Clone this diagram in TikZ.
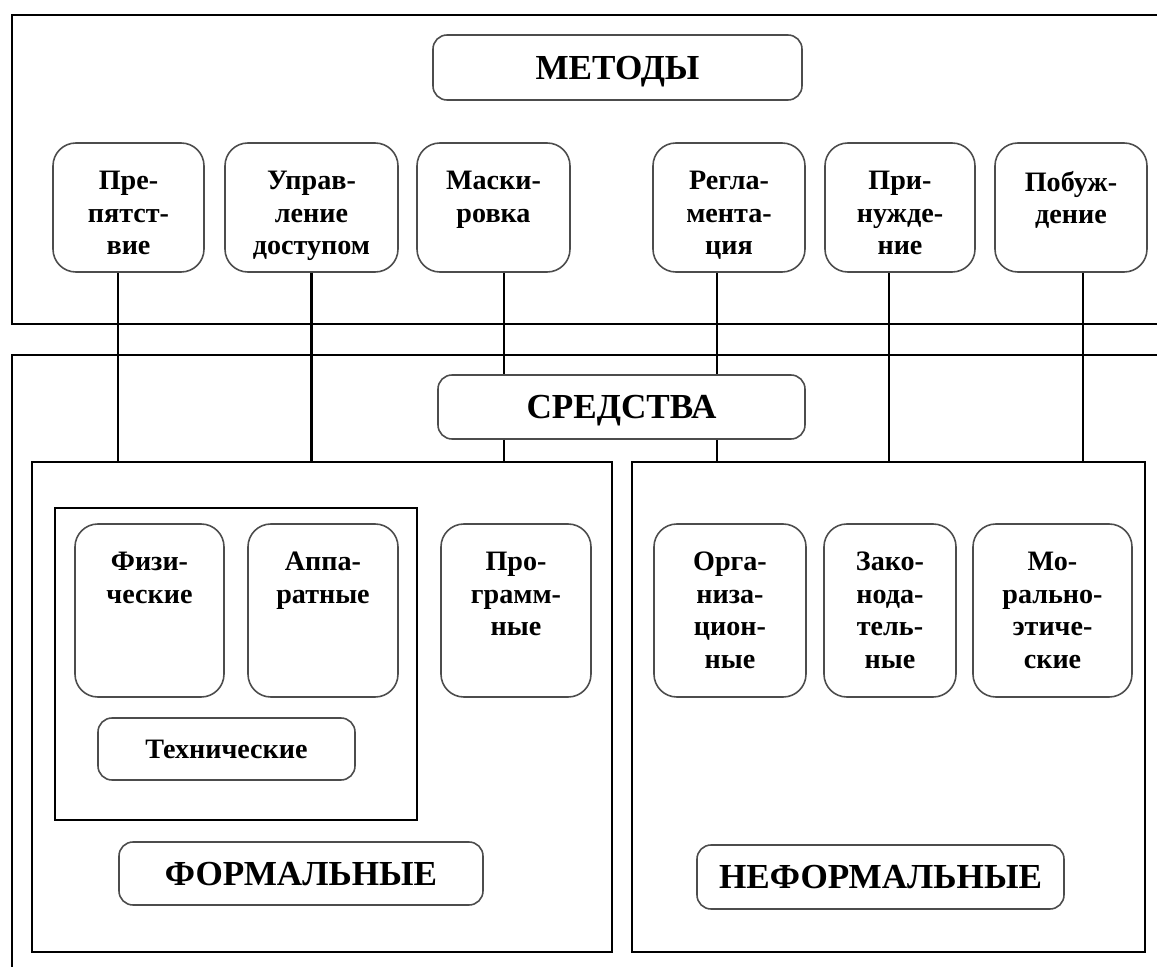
\documentclass[tikz,border=0pt]{standalone}
\usepackage{fontspec}
\setmainfont{Liberation Serif}
\newcommand{\boxtext}[3]{\parbox[c][#2][t]{#1}{\centering\vspace*{5.6mm}#3}}

\begin{document}
\begin{tikzpicture}[
                font=\bfseries\fontsize{16}{18.6}\selectfont,
                frame/.style={rectangle, draw=black, line width=1.6pt, inner sep=0pt},
                item/.style={rectangle, draw=black!70, line width=0.9pt, rounded corners=13pt, inner sep=0pt},
                head/.style={rectangle, draw=black!70, line width=0.9pt, rounded corners=8pt, inner sep=0pt, text depth=0pt, font=\bfseries\fontsize{20}{24}\selectfont},
                conn/.style={line width=1.6pt},
            ]
            \path[use as bounding box, clip] (0,0) rectangle (23.14,-19.34);

            \node[frame, minimum width=23.36cm, minimum height=6.18cm] (topframe) at (11.92,-3.39) {};
            \node[frame, minimum width=23.36cm, minimum height=12.7cm] (lowframe) at (11.92,-13.45) {};
            \node[frame, minimum width=11.6cm, minimum height=9.8cm] (formal) at (6.44,-14.14) {};
            \node[frame, minimum width=10.26cm, minimum height=9.8cm] (informal) at (17.77,-14.14) {};
            \node[frame, minimum width=7.24cm, minimum height=6.24cm] (tech) at (4.72,-13.28) {};

            \node[head, minimum width=7.38cm, minimum height=1.3cm] (metody) at (12.35,-1.35) {МЕТОДЫ};
            \node[item] (prep) at (2.57,-4.15) {\boxtext{3.02cm}{2.58cm}{Пре-\\пятст-\\вие}};
            \node[item] (upr) at (6.23,-4.15) {\boxtext{3.46cm}{2.58cm}{Управ-\\ление\\доступом}};
            \node[item] (mask) at (9.87,-4.15) {\boxtext{3.06cm}{2.58cm}{Маски-\\ровка}};
            \node[item] (regl) at (14.58,-4.15) {\boxtext{3.04cm}{2.58cm}{Регла-\\мента-\\ция}};
            \node[item] (prin) at (18.0,-4.15) {\boxtext{3.0cm}{2.58cm}{При-\\нужде-\\ние}};
            \node[item] (pob) at (21.42,-4.15) {\boxtext{3.04cm}{2.58cm}{Побуж-\\дение}};

            \node[head, minimum width=7.34cm, minimum height=1.28cm] (sredstva) at (12.43,-8.14) {СРЕДСТВА};

            \node[item] (phys) at (2.99,-12.21) {\boxtext{2.98cm}{3.46cm}{Физи-\\ческие}};
            \node[item] (appar) at (6.46,-12.21) {\boxtext{3.0cm}{3.46cm}{Аппа-\\ратные}};
            \node[item] (prog) at (10.32,-12.21) {\boxtext{3.0cm}{3.46cm}{Про-\\грамм-\\ные}};
            \node[item, rounded corners=8pt, minimum width=5.14cm, minimum height=1.24cm] (techlbl) at (4.53,-14.98) {Технические};
            \node[head, minimum width=7.28cm, minimum height=1.26cm] (formallbl) at (6.02,-17.47) {ФОРМАЛЬНЫЕ};

            \node[item] (org) at (14.6,-12.21) {\boxtext{3.04cm}{3.46cm}{Орга-\\низа-\\цион-\\ные}};
            \node[item] (zak) at (17.8,-12.21) {\boxtext{2.64cm}{3.46cm}{Зако-\\нода-\\тель-\\ные}};
            \node[item] (moral) at (21.05,-12.21) {\boxtext{3.18cm}{3.46cm}{Мо-\\рально-\\этиче-\\ские}};
            \node[head, minimum width=7.34cm, minimum height=1.28cm] (informallbl) at (17.61,-17.54) {НЕФОРМАЛЬНЫЕ};

            \draw[conn] ([xshift=-2.1mm]prep.south) -- ([xshift=-2.1mm]prep.south |- formal.north);
            \draw[conn] (upr.south) -- (upr.south |- formal.north);
            \draw[conn] ([xshift=2.1mm]mask.south) -- ([xshift=2.1mm]mask.south |- sredstva.north);
            \draw[conn] ([xshift=2.1mm]mask.south |- sredstva.south) -- ([xshift=2.1mm]mask.south |- formal.north);
            \draw[conn] ([xshift=-2.4mm]regl.south) -- ([xshift=-2.4mm]regl.south |- sredstva.north);
            \draw[conn] ([xshift=-2.4mm]regl.south |- sredstva.south) -- ([xshift=-2.4mm]regl.south |- informal.north);
            \draw[conn] ([xshift=-2.2mm]prin.south) -- ([xshift=-2.2mm]prin.south |- informal.north);
            \draw[conn] ([xshift=2.4mm]pob.south) -- ([xshift=2.4mm]pob.south |- informal.north);
        \end{tikzpicture}
\end{document}
